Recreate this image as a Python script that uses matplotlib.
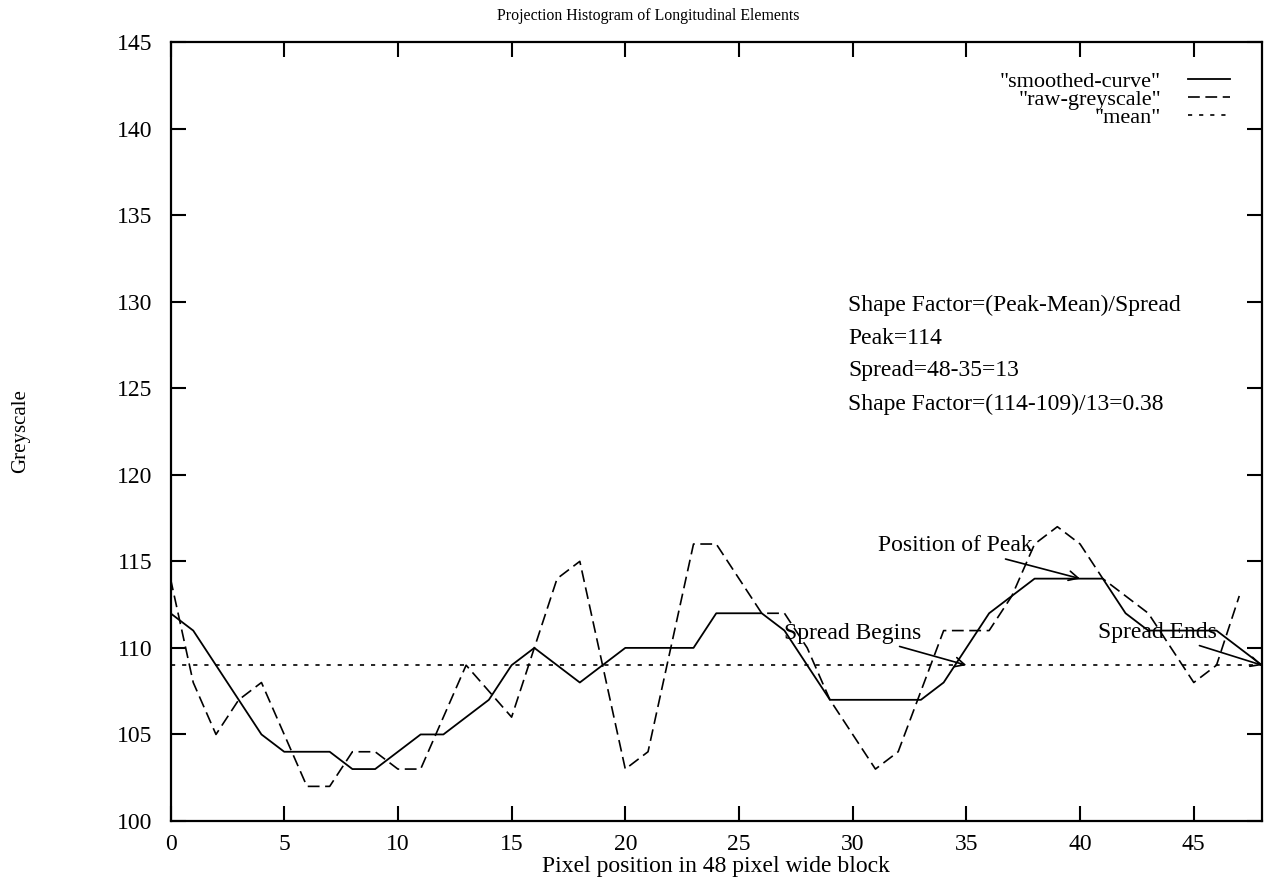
import numpy as np
import matplotlib
matplotlib.use("Agg")
import matplotlib.pyplot as plt

# ---- data ----
smoothed_curve = [112, 111, 109, 107, 105, 104, 104, 104, 103, 103, 104, 105, 105, 106, 107,
                  109, 110, 109, 108, 109, 110, 110, 110, 110, 112, 112, 112, 111, 109, 107,
                  107, 107, 107, 107, 108, 110, 112, 113, 114, 114, 114, 114, 112, 111, 111,
                  111, 111, 110, 109]
raw_greyscale = [114, 108, 105, 107, 108, 105, 102, 102, 104, 104, 103, 103, 106, 109, 107.5,
                 106, 110, 114, 115, 109, 103, 104, 110, 116, 116, 114, 112, 112, 110, 107,
                 105, 103, 104, 107.5, 111, 111, 111, 113, 116, 117, 116, 114, 113, 112, 110,
                 108, 109, 113]
mean_value = 109
x_ticks = [0, 5, 10, 15, 20, 25, 30, 35, 40, 45]
y_ticks = [100, 105, 110, 115, 120, 125, 130, 135, 140, 145]
info_lines = ["Shape Factor=(Peak-Mean)/Spread", "Peak=114", "Spread=48-35=13",
              "Shape Factor=(114-109)/13=0.38"]

x_smooth = np.arange(len(smoothed_curve))
x_raw = np.arange(len(raw_greyscale))
x_mean = np.arange(len(smoothed_curve))

plt.rcParams['font.family'] = ['Liberation Serif', 'DejaVu Serif']
plt.rcParams['lines.scale_dashes'] = False

W, H = 1266, 885
fig = plt.figure(figsize=(W / 100, H / 100), dpi=100)
left, right, top, bottom = 170.5, 1262, 42, 821
ax = fig.add_axes([left / W, 1 - bottom / H, (right - left) / W, (bottom - top) / H])

ax.plot(x_smooth, smoothed_curve, color='black', lw=1.3, ls='-', label='"smoothed-curve"')
ax.plot(x_raw, raw_greyscale, color='black', lw=1.2, dashes=(8.5, 4), label='"raw-greyscale"')
ax.plot(x_mean, np.full(len(x_mean), mean_value), color='black', lw=1.2, dashes=(3, 5),
        label='"mean"')

ax.set_xlim(0, 48)
ax.set_ylim(100, 145)
ax.set_xticks(x_ticks)
ax.set_yticks(y_ticks)
ax.tick_params(direction='in', length=11, width=1.5, top=True, right=True,
               labelsize=17)
ax.tick_params(axis='x', pad=9)
ax.tick_params(axis='y', pad=13)
for s in ax.spines.values():
    s.set_linewidth(1.6)

ax.set_xlabel('Pixel position in 48 pixel wide block', fontsize=17, labelpad=1)
ax.set_ylabel('Greyscale', fontsize=15, va='center')
ax.yaxis.set_label_coords((21 - left) / (right - left), 0.5)
fig.text(648 / W, 1 - 16 / H, 'Projection Histogram of Longitudinal Elements',
         ha='center', va='center', fontsize=11.4)

leg = ax.legend(loc='upper right',
                bbox_to_anchor=(1 - 32 / (right - left), 1 - 29 / (bottom - top)),
                markerfirst=False, frameon=False, fontsize=16, handlelength=1.9,
                labelspacing=-0.1, handletextpad=1.2, borderpad=0, borderaxespad=0)

info_y = [129.8, 127.9, 126.0, 124.05]
for t, yy in zip(info_lines, info_y):
    ax.text(29.8, yy, t, ha='left', va='center', fontsize=17)

arrow = dict(arrowstyle='->', color='black', lw=1.2, shrinkA=0, shrinkB=0)
ax.annotate('Position of Peak', xy=(40, 114), xytext=(37.9, 115.9), ha='right', va='center',
            fontsize=17, arrowprops=arrow)
ax.annotate('Spread Begins', xy=(35, 109), xytext=(33.0, 110.85), ha='right', va='center',
            fontsize=17, arrowprops=arrow)
ax.annotate('Spread Ends', xy=(48, 109), xytext=(46.0, 110.9), ha='right', va='center',
            fontsize=17, arrowprops=arrow)

fig.savefig('out.png', dpi=100)
